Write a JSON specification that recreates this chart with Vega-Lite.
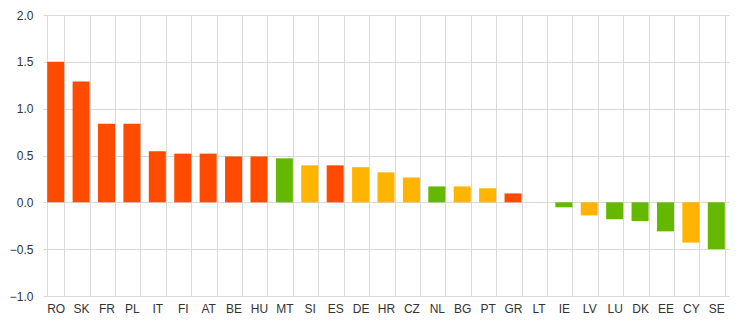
{
  "$schema": "https://vega.github.io/schema/vega-lite/v6.json",
  "width": 686,
  "height": 281,
  "autosize": {"type": "none"},
  "padding": {"left": 43, "top": 15, "right": 15, "bottom": 27},
  "config": {
    "view": {"stroke": null},
    "font": "Liberation Sans",
    "axis": {"labelFont": "Liberation Sans", "labelFontSize": 12, "labelColor": "#333333", "gridColor": "#d9d9d9", "gridWidth": 1, "domain": false, "ticks": false, "title": null}
  },
  "data": {
    "values": [
      {"country": "RO", "value": 1.5, "group": "red"},
      {"country": "SK", "value": 1.29, "group": "red"},
      {"country": "FR", "value": 0.84, "group": "red"},
      {"country": "PL", "value": 0.84, "group": "red"},
      {"country": "IT", "value": 0.545, "group": "red"},
      {"country": "FI", "value": 0.52, "group": "red"},
      {"country": "AT", "value": 0.52, "group": "red"},
      {"country": "BE", "value": 0.49, "group": "red"},
      {"country": "HU", "value": 0.49, "group": "red"},
      {"country": "MT", "value": 0.47, "group": "green"},
      {"country": "SI", "value": 0.395, "group": "yellow"},
      {"country": "ES", "value": 0.395, "group": "red"},
      {"country": "DE", "value": 0.375, "group": "yellow"},
      {"country": "HR", "value": 0.32, "group": "yellow"},
      {"country": "CZ", "value": 0.265, "group": "yellow"},
      {"country": "NL", "value": 0.17, "group": "green"},
      {"country": "BG", "value": 0.17, "group": "yellow"},
      {"country": "PT", "value": 0.15, "group": "yellow"},
      {"country": "GR", "value": 0.095, "group": "red"},
      {"country": "LT", "value": 0, "group": "yellow"},
      {"country": "IE", "value": -0.053, "group": "green"},
      {"country": "LV", "value": -0.14, "group": "yellow"},
      {"country": "LU", "value": -0.18, "group": "green"},
      {"country": "DK", "value": -0.2, "group": "green"},
      {"country": "EE", "value": -0.31, "group": "green"},
      {"country": "CY", "value": -0.43, "group": "yellow"},
      {"country": "SE", "value": -0.5, "group": "green"}
    ]
  },
  "mark": {"type": "bar"},
  "encoding": {
    "x": {
      "field": "country",
      "type": "nominal",
      "sort": null,
      "scale": {"paddingInner": 0.33, "paddingOuter": 0.165},
      "axis": {"labelAngle": 0, "grid": true, "tickBand": "extent", "labelPadding": 7}
    },
    "y": {
      "field": "value",
      "type": "quantitative",
      "scale": {"domain": [-1, 2], "nice": false},
      "axis": {"values": [-1, -0.5, 0, 0.5, 1, 1.5, 2], "format": ".1f", "grid": true, "labelPadding": 10}
    },
    "color": {
      "field": "group",
      "type": "nominal",
      "scale": {"domain": ["red", "yellow", "green"], "range": ["#ff4b00", "#ffb400", "#65b800"]},
      "legend": null
    }
  }
}
